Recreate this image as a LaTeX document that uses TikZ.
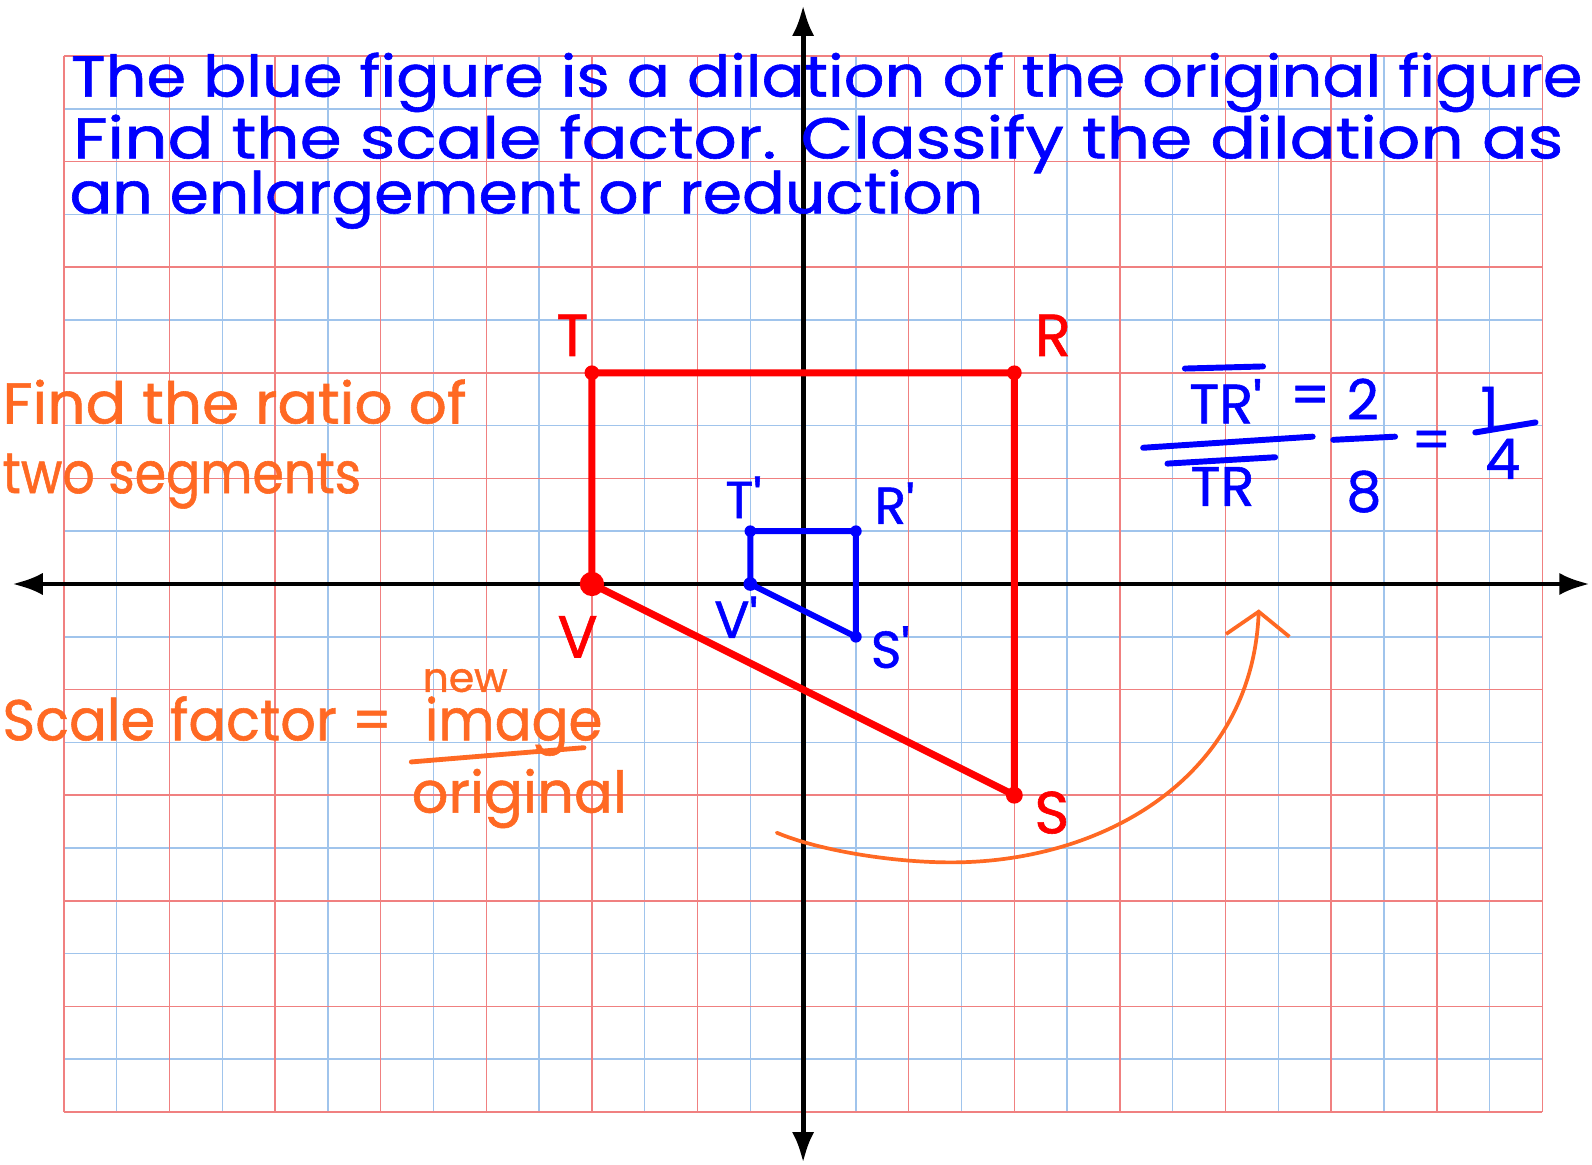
\documentclass[tikz,border=0pt]{standalone}
\usepackage{fontspec}
\setmainfont{Poppins}[FakeBold=1]
\usepackage{graphicx}
\usepackage{tikz}
\usetikzlibrary{arrows.meta, positioning, calc}

\definecolor{gridred}{RGB}{240,128,128}
\definecolor{gridblue}{RGB}{160,196,236}
\definecolor{penred}{RGB}{255,0,0}
\definecolor{penblue}{RGB}{0,0,255}
\definecolor{penorange}{RGB}{255,105,35}

\begin{document}
\begin{tikzpicture}[
                x=1cm, y=1cm,
                gridfine/.style={draw=gridblue, line width=0.8pt},
                gridcoarse/.style={draw=gridred, line width=0.8pt},
                axis/.style={line width=2.6pt, {Latex[length=5.8mm,width=4.2mm]}-{Latex[length=5.8mm,width=4.2mm]}},
                redpen/.style={draw=penred, line width=3.8pt, line join=round, line cap=round},
                bluepen/.style={draw=penblue, line width=3.2pt, line join=round, line cap=round},
                orangepen/.style={draw=penorange, line width=2pt, line cap=round},
                note/.style={anchor=base west, inner sep=0pt, text=penblue, font=\fontsize{31}{36}\selectfont},
                hint/.style={anchor=base west, inner sep=0pt, text=penorange, font=\fontsize{31}{36}\selectfont},
                redlbl/.style={inner sep=0pt, text=penred, font=\fontsize{32}{36}\selectfont},
                bluelbl/.style={inner sep=0pt, text=penblue, font=\fontsize{28}{32}\selectfont},
                mathlbl/.style={inner sep=0pt, text=penblue, font=\fontsize{30}{34}\selectfont}
            ]%
            % Hoja cuadriculada
            \useasboundingbox (-15.21,-11.0) rectangle (14.94,11.06);
            \clip (-15.21,-11.0) rectangle (14.94,11.06);
            \fill[white] (-15.21,-11.0) rectangle (14.94,11.06);
            \draw[gridfine] (-14,-10) grid (14,10);
            \draw[gridcoarse, step=2] (-14,-10) grid (14,10);
            %
            % Ejes
            \coordinate (xl) at (-14.98,0);
            \coordinate (xr) at (14.9,0);
            \coordinate (yb) at (0,-10.96);
            \coordinate (yt) at (0,10.96);
            \draw[axis] (xl) -- (xr);
            \draw[axis] (yb) -- (yt);
            %
            % Enunciado
            \node[note] (line1) at (-13.87,9.23) {\scalebox{1.11}[1]{The blue figure is a dilation of the original figure}};
            \node[note] (line2) at (-13.83,8.06) {\scalebox{1.18}[1]{Find the scale factor. Classify the dilation as}};
            \node[note] (line3) at (-13.9,7.02) {\scalebox{1.1}[1]{an enlargement or reduction}};
            %
            % Figura original (roja)
            \coordinate (T) at (-4,4);
            \coordinate (R) at (4,4);
            \coordinate (S) at (4,-4);
            \coordinate (V) at (-4,0);
            \draw[redpen] (T) -- (R) -- (S) -- (V) -- cycle;
            \fill[penred] (T) circle (0.14) (R) circle (0.14) (S) circle (0.16) (V) circle (0.23);
            \node[redlbl, xshift=-0.37cm, yshift=0.71cm] (lblT) at (T) {T};
            \node[redlbl, xshift=0.73cm, yshift=0.71cm] (lblR) at (R) {R};
            \node[redlbl, xshift=0.71cm, yshift=-0.33cm] (lblS) at (S) {S};
            \node[redlbl, xshift=-0.27cm, yshift=-1.0cm] (lblV) at (V) {V};
            %
            % Imagen (azul)
            \coordinate (Tp) at (-1,1);
            \coordinate (Rp) at (1,1);
            \coordinate (Sp) at (1,-1);
            \coordinate (Vp) at (-1,0);
            \draw[bluepen] (Tp) -- (Rp) -- (Sp) -- (Vp) -- cycle;
            \fill[penblue] (Tp) circle (0.11) (Rp) circle (0.11) (Sp) circle (0.11) (Vp) circle (0.13);
            \node[bluelbl, xshift=-0.13cm, yshift=0.64cm] (lblTp) at (Tp) {T\textquotesingle};
            \node[bluelbl, xshift=0.73cm, yshift=0.53cm] (lblRp) at (Rp) {R\textquotesingle};
            \node[bluelbl, xshift=0.65cm, yshift=-0.2cm] (lblSp) at (Sp) {S\textquotesingle};
            \node[bluelbl, xshift=-0.27cm, yshift=-0.63cm] (lblVp) at (Vp) {V\textquotesingle};
            %
            % Razon de segmentos
            \node[mathlbl, anchor=base] (num) at (8.0,3.04) {TR\textquotesingle};
            \node[mathlbl] (eqA) at (9.6,3.48) {=};
            \node[mathlbl] (two) at (10.6,3.5) {2};
            \node[mathlbl, anchor=base] (den) at (7.94,1.48) {TR};
            \node[mathlbl] (eight) at (10.62,1.75) {8};
            \node[mathlbl] (eqB) at (11.9,2.63) {=};
            \node[mathlbl] (one) at (13.0,3.35) {1};
            \node[mathlbl] (four) at (13.25,2.37) {4};
            \coordinate (ovAl) at (7.23,4.08);
            \coordinate (ovAr) at (8.71,4.12);
            \coordinate (ovBl) at (6.9,2.28);
            \coordinate (ovBr) at (8.94,2.4);
            \coordinate (barAl) at (6.44,2.58);
            \coordinate (barAr) at (9.65,2.79);
            \coordinate (barBl) at (10.04,2.73);
            \coordinate (barBr) at (11.21,2.79);
            \coordinate (barCl) at (12.73,2.87);
            \coordinate (barCr) at (13.87,3.06);
            \draw[bluepen] (ovAl) -- (ovAr);
            \draw[bluepen] (ovBl) -- (ovBr);
            \draw[bluepen] (barAl) -- (barAr);
            \draw[bluepen] (barBl) -- (barBr);
            \draw[bluepen] (barCl) -- (barCr);
            %
            % Notas naranjas
            \node[hint] (hintA) at (-15.17,3.04) {\scalebox{1.04}[1]{Find the ratio of}};
            \node[hint] (hintB) at (-15.17,1.72) {\scalebox{0.88}[1]{two segments}};
            \node[hint] (hintC) at (-15.17,-2.96) {\scalebox{0.97}[1]{Scale factor =}};
            \node[hint] (image) at (-7.17,-2.96) {\scalebox{0.95}[1]{image}};
            \node[hint, anchor=center, font=\fontsize{22}{26}\selectfont] (new) at (-6.4,-1.83) {new};
            \node[hint] (orig) at (-7.42,-4.33) {original};
            \coordinate (fracl) at (-7.42,-3.37);
            \coordinate (fracr) at (-4.15,-3.10);
            \draw[orangepen, line width=2.6pt] (fracl) -- (fracr);
            %
            % Flecha curva
            \coordinate (arcA) at (-0.5,-4.71);
            \coordinate (arcB) at (8.63,-0.48);
            \draw[orangepen, -{Straight Barb[length=4.5mm,width=12mm]}] (arcA) .. controls (0.3,-5.05) and (1.8,-5.3) .. (3.0,-5.27) .. controls (5.8,-5.2) and (8.5,-3.6) .. (arcB);
\end{tikzpicture}
\end{document}
